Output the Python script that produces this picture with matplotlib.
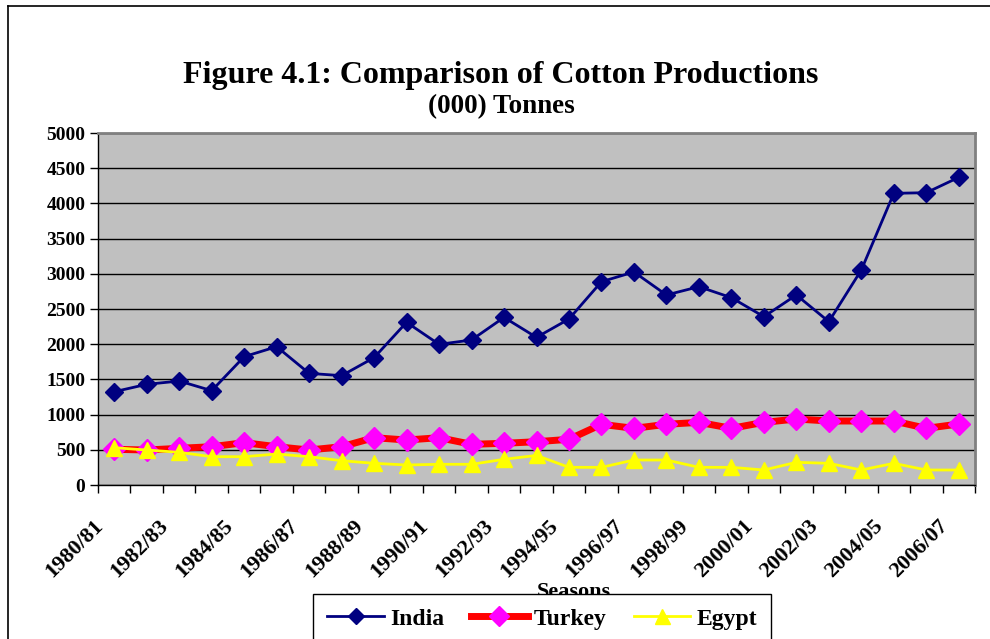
import matplotlib.pyplot as plt
from matplotlib.lines import Line2D
from matplotlib.transforms import ScaledTranslation

seasons = [f"{y}/{str(y + 1)[-2:]}" for y in range(1980, 2007)]
india = [1325, 1430, 1477, 1340, 1823, 1965, 1586, 1553, 1809, 2311,
         1998, 2060, 2381, 2097, 2358, 2888, 3026, 2699, 2817, 2661,
         2391, 2699, 2320, 3054, 4143, 4152, 4370]
turkey = [507, 497, 521, 544, 601, 544, 497, 544, 672, 639,
          672, 578, 592, 615, 649, 862, 805, 862, 890, 805,
          890, 937, 909, 909, 909, 805, 866]
egypt = [530, 497, 464, 402, 402, 440, 402, 345, 308, 284,
         294, 294, 365, 420, 251, 251, 355, 355, 251, 251,
         213, 322, 308, 213, 308, 213, 213]
y_ticks = list(range(0, 5001, 500))

plt.rcParams['font.family'] = ['Liberation Serif', 'DejaVu Serif']
plt.rcParams['font.weight'] = 'bold'

W, H = 990, 639
fig = plt.figure(figsize=(W / 100, H / 100), dpi=100)
ax = fig.add_axes([98 / W, 1 - 485 / H, (975 - 98) / W, (485 - 133) / H])
ax.set_facecolor('#c0c0c0')

x = list(range(len(seasons)))
ax.plot(x, india, color='#000080', lw=2, marker='D', ms=9,
        mfc='#000080', mec='#000080', label='India', zorder=5)
ax.plot(x, turkey, color='#ff0000', lw=5, marker='D', ms=11,
        mfc='#ff00ff', mec='#ff00ff', label='Turkey', zorder=4)
ax.plot(x, egypt, color='#ffff00', lw=2, marker='^', ms=12,
        mfc='#ffff00', mec='#ffff00', label='Egypt', zorder=6)

ax.set_xlim(-0.5, len(seasons) - 0.5)
ax.set_ylim(0, 5000)
ax.set_yticks(y_ticks)
ax.set_yticklabels([str(v) for v in y_ticks], fontsize=14, fontweight='bold')
ax.yaxis.grid(True, color='black', lw=1)
ax.set_axisbelow(True)

# category boundaries get the ticks, labels sit on every other season
ax.set_xticks([i - 0.5 for i in range(len(seasons) + 1)])
ax.set_xticklabels([])
ax.tick_params(axis='x', length=6, width=1, direction='out')
ax.tick_params(axis='y', length=6, width=1, direction='out', pad=3)

shift = ScaledTranslation(-0.14, -0.38, fig.dpi_scale_trans)
for i in x[::2]:
    ax.text(i, 0, seasons[i], transform=ax.get_xaxis_transform() + shift,
            rotation=45, ha='right', va='center', rotation_mode='anchor',
            fontsize=16, fontweight='bold', clip_on=False)

for s in ax.spines.values():
    s.set_color('#808080')
    s.set_linewidth(2)
ax.spines['left'].set_color('black')
ax.spines['left'].set_linewidth(1)
ax.spines['bottom'].set_color('black')
ax.spines['bottom'].set_linewidth(1)

fig.text(501 / W, 1 - 83 / H, 'Figure 4.1: Comparison of Cotton Productions',
         ha='center', va='baseline', fontsize=23, fontweight='bold')
fig.text(501 / W, 1 - 113 / H, '(000) Tonnes',
         ha='center', va='baseline', fontsize=19.5, fontweight='bold')
fig.text(574 / W, 1 - 597 / H, 'Seasons',
         ha='center', va='baseline', fontsize=16, fontweight='bold')

# outer chart frame
fig.add_artist(Line2D([8 / W, 8 / W], [0, 1 - 6 / H], color='black', lw=1.2,
                      transform=fig.transFigure))
fig.add_artist(Line2D([8 / W, 1], [1 - 6 / H, 1 - 6 / H], color='black', lw=1.2,
                      transform=fig.transFigure))

leg = fig.legend(loc='upper left', bbox_to_anchor=(313 / W, 1 - 594 / H),
                 ncol=3, fontsize=17, frameon=True, fancybox=False,
                 borderaxespad=0, borderpad=0.6, handlelength=2.4,
                 columnspacing=1.15, handletextpad=0.25, markerscale=0.9)
leg.get_frame().set_edgecolor('black')
leg.get_frame().set_linewidth(1)
leg.get_frame().set_alpha(1)
leg.set_zorder(10)

fig.savefig('out.png', dpi=100, facecolor='white')
